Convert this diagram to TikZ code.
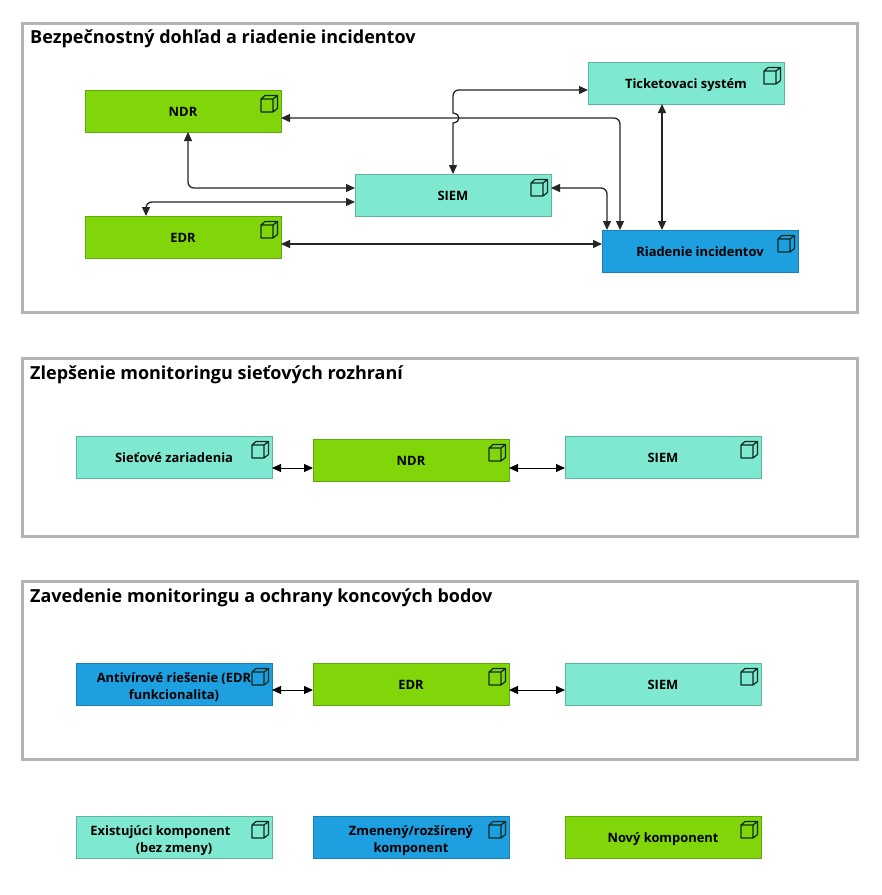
\documentclass[tikz,border=0pt]{standalone}
\usepackage{fontspec}
\setmainfont{Open Sans}
\usetikzlibrary{arrows.meta,calc}
\definecolor{exist}{HTML}{7EE9D0}
\definecolor{existb}{HTML}{5FB5A0}
\definecolor{novy}{HTML}{80D608}
\definecolor{novyb}{HTML}{5FA80F}
\definecolor{zmena}{HTML}{1E9FDF}
\definecolor{zmenab}{HTML}{1A7FB5}
\definecolor{frameg}{HTML}{B4B4B4}
\definecolor{ikona}{HTML}{0F2A20}
\definecolor{linka}{HTML}{262626}
\newcommand{\topgap}{\rule{0pt}{14.5pt}}
\tikzset{
  x=1pt,y=-1pt,
  comp/.style={minimum width=196pt,minimum height=42pt,inner sep=0pt,outer sep=0pt,align=center,
    font=\fontsize{12.9}{17}\selectfont\bfseries,text=black,line width=1pt,text depth=0pt},
  oneline/.style={text height=10.8pt,text depth=0pt},
  compE/.style={comp,fill=exist,draw=existb},
  compN/.style={comp,fill=novy,draw=novyb},
  compZ/.style={comp,fill=zmena,draw=zmenab},
  zone/.style={draw=frameg,line width=3pt,fill=white,inner sep=0pt,outer sep=0pt},
  zonetitle/.style={anchor=base west,inner sep=0pt,font=\fontsize{18}{20}\selectfont\bfseries,text=black},
  link/.style={draw=linka,line width=1.3pt,rounded corners=6pt,{Triangle[length=9pt,width=8pt]}-{Triangle[length=9pt,width=8pt]}},
  linkthin/.style={draw=black,line width=1pt,{Triangle[length=9pt,width=8pt]}-{Triangle[length=9pt,width=8pt]}},
  cube/.pic={
    \draw[ikona,line width=1.2pt,line join=round]
      (-20,9) rectangle (-8,22)
      (-20,9) -- (-16,5.5) -- (-3.5,5.5) -- (-3.5,18.5) -- (-8,22)
      (-8,9) -- (-3.5,5.5);
  }
}
\newcommand{\cubeon}[1]{\path (#1.north east) pic {cube};}
\begin{document}
\begin{tikzpicture}
\useasboundingbox (0,0) rectangle (882,895);
\fill[white] (0,0) rectangle (882,895);
% zones
\node[zone,minimum width=835pt,minimum height=289pt] (z1) at (439.5,167.5) {};
\node[zone,minimum width=835pt,minimum height=178pt] (z2) at (439.5,447) {};
\node[zone,minimum width=835pt,minimum height=178pt] (z3) at (439.5,670) {};
\node[zonetitle] (t1) at (30,43.5) {Bezpečnostný dohľad a riadenie incidentov};
\node[zonetitle] (t2) at (30,379) {Zlepšenie monitoringu sieťových rozhraní};
\node[zonetitle] (t3) at (30,602) {Zavedenie monitoringu a ochrany koncových bodov};
% zone 1 components
\node[compN,oneline] (ndr) at (183,111) {NDR};
\node[compN,oneline] (edr) at (183,237) {EDR};
\node[compE,oneline] (siem) at (453,195) {SIEM};
\node[compE,oneline] (tick) at (686,83) {Ticketovaci systém};
\node[compZ,oneline] (ri) at (700,251) {Riadenie incidentov};
% zone 2 components
\node[compE,oneline] (sz) at (174,457) {Sieťové zariadenia};
\node[compN,oneline] (ndr2) at (411,460) {NDR};
\node[compE,oneline] (siem2) at (663,457) {SIEM};
% zone 3 components
\node[compZ] (av) at (174,684) {\topgap Antivírové riešenie (EDR\\funkcionalita)};
\node[compN,oneline] (edr3) at (411,684) {EDR};
\node[compE,oneline] (siem3) at (663,684) {SIEM};
% legend
\node[compE] (le) at (174,837) {\topgap Existujúci komponent\hspace*{27pt}\\(bez zmeny)};
\node[compZ] (lz) at (411,837) {\topgap Zmenený/rozšírený\\komponent};
\node[compN,oneline] (ln) at (663,837) {Nový komponent};
\foreach \n in {ndr,edr,siem,tick,ri,sz,ndr2,siem2,av,edr3,siem3,le,lz,ln}{\cubeon{\n}}
% connector end points
\coordinate (ndrE) at ($(ndr.east)+(0,7)$);
\coordinate (ndrS) at ($(ndr.south)+(5,0)$);
\coordinate (edrN) at ($(edr.north)+(-37,0)$);
\coordinate (edrE) at ($(edr.east)+(0,7)$);
\coordinate (siemW1) at ($(siem.west)+(0,-7)$);
\coordinate (siemW2) at ($(siem.west)+(0,7)$);
\coordinate (siemE) at ($(siem.east)+(0,-7)$);
\coordinate (tickW) at ($(tick.west)+(0,7)$);
\coordinate (tickS) at ($(tick.south)+(-24,0)$);
\coordinate (riN1) at ($(ri.north)+(-93,0)$);
\coordinate (riN2) at ($(ri.north)+(-80,0)$);
\coordinate (riN3) at ($(ri.north)+(-38,0)$);
\coordinate (riW) at ($(ri.west)+(0,-7)$);
% connectors zone 1
\draw[link] (ndrE) -| (riN2);
\draw[link] (ndrS) |- (siemW1);
\draw[link] (edrN) |- (siemW2);
\draw[link] (edrE) -- (riW);
\draw[link] (siemE) -| (riN1);
\draw[link] (tickS) -- (riN3);
\draw[draw=linka,line width=1.3pt,{Triangle[length=9pt,width=8pt]}-{Triangle[length=9pt,width=8pt]}]
  (siem.north) -- ++(0,-51) .. controls +(8,-1) and +(8,1) .. ++(0,-10) -- ++(0,-16.5)
  .. controls +(0,-4) and +(-4,0) .. ++(6,-6.5) -- (tickW);
% connectors zones 2, 3
\draw[linkthin] ($(sz.east)+(0,11)$) -- ($(ndr2.west)+(0,8)$);
\draw[linkthin] ($(ndr2.east)+(0,8)$) -- ($(siem2.west)+(0,11)$);
\draw[linkthin] ($(av.east)+(0,6)$) -- ($(edr3.west)+(0,6)$);
\draw[linkthin] ($(edr3.east)+(0,6)$) -- ($(siem3.west)+(0,6)$);
\end{tikzpicture}
\end{document}
